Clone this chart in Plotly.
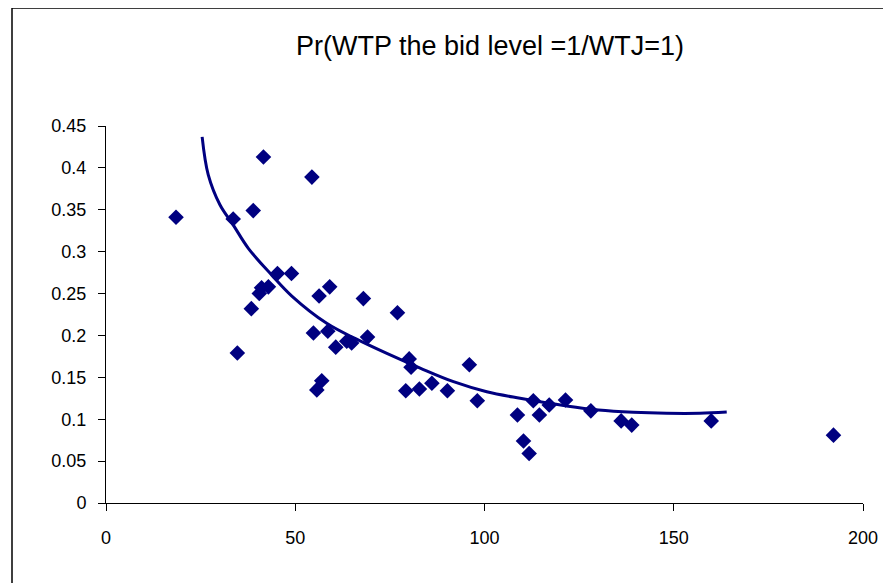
import plotly.graph_objects as go

# Observed points (bid level, probability)
bid = [18.5, 33.6, 38.9, 41.6, 54.4, 34.7, 38.4, 40.5, 41.1, 42.9, 45.3, 49.0,
       56.3, 59.1, 54.8, 58.6, 60.7, 63.6, 64.9, 55.7, 57.0, 68.0, 69.1, 77.0,
       80.1, 80.6, 79.2, 82.8, 86.1, 90.2, 96.0, 98.1, 108.7, 110.3, 111.8,
       112.9, 114.5, 117.1, 121.4, 128.1, 136.1, 138.9, 159.9, 192.2]
prob = [0.341, 0.339, 0.349, 0.413, 0.389, 0.179, 0.232, 0.250, 0.257, 0.258,
        0.274, 0.274, 0.247, 0.258, 0.203, 0.205, 0.186, 0.193, 0.191, 0.135,
        0.146, 0.244, 0.198, 0.227, 0.172, 0.162, 0.134, 0.136, 0.143, 0.134,
        0.165, 0.122, 0.105, 0.074, 0.059, 0.122, 0.105, 0.117, 0.123, 0.110,
        0.098, 0.093, 0.098, 0.081]

# Trendline
trend_x = [25.4, 27.0, 30.1, 33.6, 37.6, 43.8, 49.1, 58.3, 66.2, 74.2,
           83.0, 91.8, 100.6, 109.4, 121.7, 130.1, 139.3, 148.1, 156.9, 164.0]
trend_y = [0.437, 0.392, 0.356, 0.332, 0.304, 0.272, 0.247, 0.2145,
           0.1955, 0.1785, 0.161, 0.1448, 0.1328, 0.125, 0.1158, 0.111,
           0.1083, 0.1071, 0.1071, 0.1086]

x_ticks = [0, 50, 100, 150, 200]
y_ticks = [0, 0.05, 0.1, 0.15, 0.2, 0.25, 0.3, 0.35, 0.4, 0.45]
y_labels = ["0", "0.05", "0.1", "0.15", "0.2", "0.25", "0.3", "0.35", "0.4", "0.45"]

navy = "#000080"
font_family = "Liberation Sans, Arial, sans-serif"

W, H = 883, 575          # page body has an 8px margin
L, R, T, B = 98, 28, 118, 80
pw, ph = W - L - R, H - T - B

fig = go.Figure()
fig.add_trace(go.Scatter(
    x=bid, y=prob, mode="markers",
    marker=dict(symbol="diamond", size=12, color=navy, line=dict(width=0)),
    showlegend=False, cliponaxis=False))
fig.add_trace(go.Scatter(
    x=trend_x, y=trend_y, mode="lines",
    line=dict(color=navy, width=3, shape="spline", smoothing=1.0),
    showlegend=False, cliponaxis=False))

fig.update_layout(
    width=W, height=H,
    margin=dict(l=L, r=R, t=T, b=B, autoexpand=False),
    paper_bgcolor="white", plot_bgcolor="white",
    font=dict(family=font_family, color="black", size=18),
    title=dict(text="Pr(WTP the bid level =1/WTJ=1)",
               x=482 / W, xanchor="center", y=1 - 38 / H, yanchor="middle",
               font=dict(size=27, family=font_family, color="black")),
    xaxis=dict(range=[0, 200], tickvals=x_ticks, ticktext=[str(v) for v in x_ticks],
               showgrid=False, zeroline=False, showline=True, linecolor="black",
               linewidth=1, ticks="outside", ticklen=7, tickcolor="black",
               tickfont=dict(size=18), ticklabelstandoff=11),
    yaxis=dict(range=[0, 0.45], tickvals=y_ticks, ticktext=y_labels,
               showgrid=False, zeroline=False, showline=True, linecolor="black",
               linewidth=1, ticks="outside", ticklen=7, tickcolor="black",
               tickfont=dict(size=18), ticklabelstandoff=8),
    shapes=[dict(type="rect", xref="paper", yref="paper",
                 x0=(4 - L) / pw, x1=(W + 10 - L) / pw,
                 y0=-(B + 10) / ph, y1=(ph + T) / ph,
                 line=dict(color="black", width=1.5), layer="below")],
)

fig.write_html("out.html")
